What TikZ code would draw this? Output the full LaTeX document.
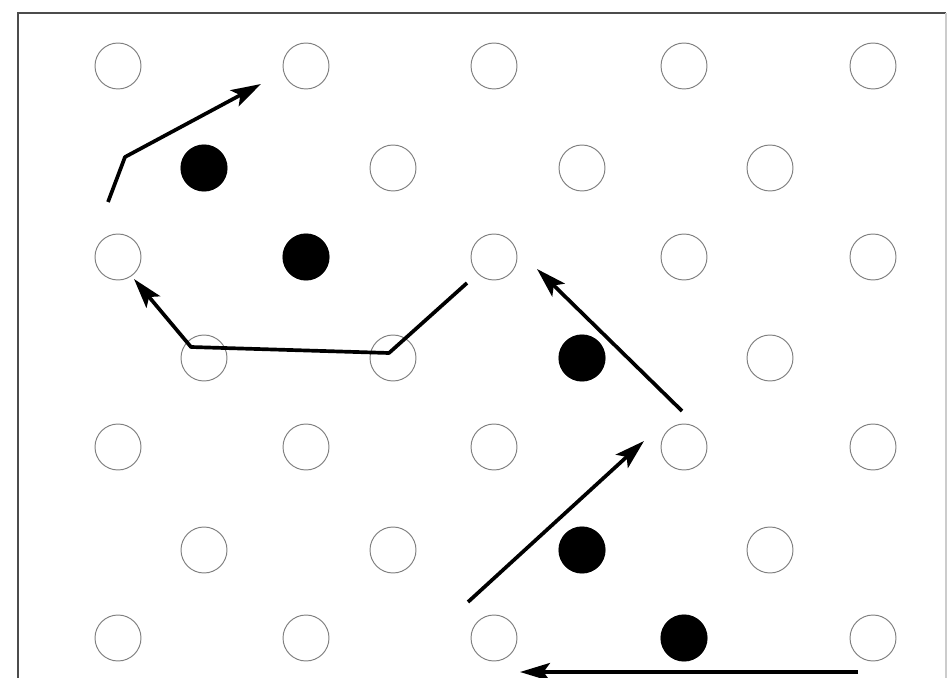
\documentclass[tikz,border=0pt]{standalone}
\usetikzlibrary{arrows.meta}
\begin{document}
\begin{tikzpicture}[x=0.02cm, y=-0.02cm,
  hole/.style={circle, draw=black!50, line width=0.55pt, minimum size=9.2mm, inner sep=0pt},
  atom/.style={circle, fill=black, minimum size=9.4mm, inner sep=0pt},
  jump/.style={line width=2.1pt, line join=round, -{Stealth[length=6mm, width=3.6mm, inset=1.3mm]}}]
  \useasboundingbox (0,0) rectangle (949,678);
  \draw[black!70, line width=1pt] (18,678) -- (18,13) -- (946,13);
  \draw[black!20, line width=0.8pt] (946,13) -- (946,678);
  \foreach \y/\r in {66/0, 257/2, 447/4, 638/6}
    \foreach \x/\c in {118/0, 306/1, 494/2, 684/3, 873/4}
      \node[hole] (h\r\c) at (\x,\y) {};
  \foreach \y/\r in {168/1, 358/3, 550/5}
    \foreach \x/\c in {204/0, 393/1, 582/2, 770/3}
      \node[hole] (h\r\c) at (\x,\y) {};
  \node[atom] (a1) at (h10) {};
  \node[atom] (a2) at (h21) {};
  \node[atom] (a3) at (h32) {};
  \node[atom] (a4) at (h52) {};
  \node[atom] (a5) at (h63) {};
  \coordinate (p1) at (108,202);
  \coordinate (p2) at (125,157);
  \coordinate (p3) at (261,84);
  \coordinate (q1) at (467,283);
  \coordinate (q2) at (389,353);
  \coordinate (q3) at (191,347);
  \coordinate (q4) at (134,279);
  \coordinate (r1) at (682,411);
  \coordinate (r2) at (537,269);
  \coordinate (s1) at (468,602);
  \coordinate (s2) at (644,441);
  \coordinate (t1) at (858,672);
  \coordinate (t2) at (520,672);
  \draw[jump] (p1) -- (p2) -- (p3);
  \draw[jump] (q1) -- (q2) -- (q3) -- (q4);
  \draw[jump] (r1) -- (r2);
  \draw[jump] (s1) -- (s2);
  \draw[jump] (t1) -- (t2);
\end{tikzpicture}
\end{document}
